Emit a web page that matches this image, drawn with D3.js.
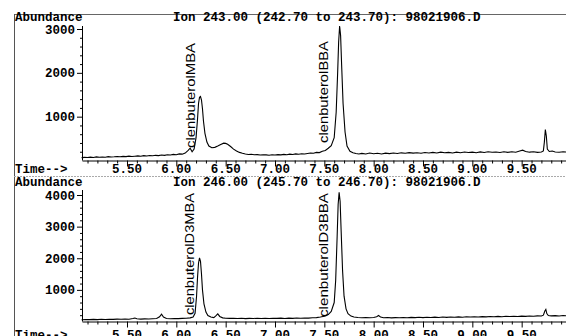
<!DOCTYPE html>
<html>
<head>
<meta charset="utf-8">
<script src="https://cdn.jsdelivr.net/npm/d3@7"></script>
<style>
  body { margin: 0; background: #fff; }
  svg { display: block; }
</style>
</head>
<body>
<div id="chart"></div>
<script>
// ---- data ----
const titles = [
  "Ion 243.00 (242.70 to 243.70): 98021906.D",
  "Ion 246.00 (245.70 to 246.70): 98021906.D"
];
const timeTicks = [5.5, 6.0, 6.5, 7.0, 7.5, 8.0, 8.5, 9.0, 9.5];
const yTicks243 = [1000, 2000, 3000];
const yTicks246 = [1000, 2000, 3000, 4000];

const peakLabels243 = ["clenbuterolMBA", "clenbuterolBBA"];
const peakLabels246 = ["clenbuterolD3MBA", "clenbuterolD3BBA"];

const t243 = [5.04,5.07,5.10,5.13,5.16,5.19,5.22,5.25,5.28,5.31,5.34,5.37,5.40,5.43,5.46,5.49,5.52,5.55,5.58,5.61,5.64,5.67,5.70,5.73,5.76,5.79,5.82,5.85,5.88,5.91,5.94,5.97,6.00,6.03,6.06,6.09,6.12,6.14,6.16,6.18,6.20,6.215,6.225,6.235,6.245,6.255,6.265,6.275,6.29,6.31,6.33,6.36,6.39,6.42,6.45,6.48,6.50,6.52,6.55,6.58,6.61,6.64,6.67,6.70,6.73,6.76,6.79,6.82,6.85,6.88,6.91,6.94,6.97,7.00,7.03,7.06,7.09,7.12,7.15,7.18,7.21,7.24,7.27,7.30,7.33,7.36,7.39,7.42,7.45,7.48,7.51,7.54,7.57,7.60,7.62,7.635,7.645,7.655,7.665,7.675,7.69,7.71,7.73,7.76,7.79,7.82,7.85,7.88,7.92,7.96,8.00,8.04,8.08,8.12,8.16,8.20,8.24,8.28,8.32,8.36,8.40,8.44,8.48,8.52,8.56,8.60,8.64,8.68,8.72,8.76,8.80,8.84,8.88,8.92,8.96,9.00,9.04,9.08,9.12,9.16,9.20,9.24,9.28,9.32,9.36,9.40,9.44,9.48,9.51,9.54,9.58,9.62,9.66,9.70,9.72,9.73,9.74,9.75,9.76,9.78,9.81,9.84,9.88,9.92,9.96,10.00];
const a243 = [65,72,68,78,70,82,75,80,74,88,80,85,92,84,95,88,100,92,98,105,96,110,102,115,108,118,112,125,118,130,124,140,132,150,145,170,230,280,200,260,520,950,1300,1440,1460,1380,1180,900,620,420,330,290,300,330,365,395,390,370,320,260,215,185,165,150,138,142,130,135,125,132,128,120,130,125,135,128,140,132,145,138,150,142,155,148,160,170,165,185,180,210,230,280,340,520,1100,2000,2700,3070,2850,2200,1300,650,330,210,175,160,150,162,148,170,155,165,150,168,158,172,160,175,165,180,168,178,165,182,170,185,172,190,176,185,172,190,178,195,182,190,178,196,184,200,188,195,182,198,186,200,190,215,235,205,190,198,185,195,220,420,705,560,260,205,215,195,188,200,192,198];

const t246 = [5.04,5.08,5.12,5.16,5.20,5.24,5.28,5.32,5.36,5.40,5.44,5.48,5.52,5.56,5.58,5.60,5.64,5.68,5.72,5.76,5.80,5.83,5.85,5.87,5.90,5.94,5.98,6.02,6.06,6.10,6.14,6.17,6.19,6.205,6.215,6.225,6.235,6.245,6.255,6.265,6.28,6.30,6.32,6.35,6.38,6.40,6.42,6.44,6.47,6.50,6.54,6.58,6.62,6.66,6.70,6.74,6.78,6.82,6.86,6.90,6.94,6.98,7.02,7.06,7.10,7.14,7.18,7.22,7.26,7.30,7.34,7.38,7.42,7.46,7.50,7.54,7.57,7.60,7.615,7.63,7.64,7.65,7.66,7.67,7.685,7.70,7.72,7.74,7.77,7.80,7.84,7.88,7.92,7.96,8.00,8.03,8.05,8.07,8.10,8.14,8.18,8.22,8.26,8.30,8.34,8.38,8.42,8.46,8.50,8.54,8.58,8.62,8.66,8.70,8.74,8.78,8.82,8.86,8.90,8.94,8.98,9.02,9.06,9.10,9.14,9.18,9.22,9.26,9.30,9.34,9.38,9.42,9.46,9.50,9.54,9.58,9.62,9.66,9.70,9.72,9.735,9.745,9.755,9.77,9.80,9.84,9.88,9.92,9.96,10.00];
const a246 = [55,62,58,66,60,70,64,72,66,75,70,78,72,95,110,85,76,82,78,88,95,150,230,140,95,88,96,90,100,105,115,140,260,800,1400,1850,2010,1900,1500,1000,560,300,190,140,125,180,240,160,115,105,98,105,95,102,92,100,95,104,96,102,94,105,98,106,97,108,100,110,102,112,106,118,124,140,165,220,320,600,1300,2700,3700,4086,3800,2900,1600,800,400,250,170,140,128,120,126,118,128,150,190,140,120,125,116,124,118,128,120,130,122,132,124,135,126,138,128,140,130,142,134,145,136,148,140,150,142,155,146,158,150,162,152,165,156,168,160,170,162,175,166,178,172,200,330,380,250,190,178,185,175,190,182,195];

// ---- layout ----
const width = 566;
const height = 336;
const margin = ({left: 82, right: 0});
const mono = "Liberation Mono, Courier New, monospace";

const svg = d3.create("svg")
    .attr("width", width)
    .attr("height", height);

svg.append("rect")
    .attr("width", width)
    .attr("height", height)
    .attr("fill", "#fff");

// shared time axis (min)
const xScale = d3.scaleLinear()
    .domain([5.044, 10.0])
    .range([margin.left, 571]);

// outer frame
svg.append("line")
    .attr("x1", 14).attr("x2", width)
    .attr("y1", 14.5).attr("y2", 14.5)
    .attr("stroke", "#666").attr("stroke-width", 1);
svg.append("line")
    .attr("x1", 14.5).attr("x2", 14.5)
    .attr("y1", 14).attr("y2", height)
    .attr("stroke", "#555").attr("stroke-width", 1);
svg.append("line")
    .attr("x1", 14).attr("x2", width)
    .attr("y1", 176.5).attr("y2", 176.5)
    .attr("stroke", "#aaa").attr("stroke-width", 1)
    .attr("stroke-dasharray", "2,1");

const panels = [
    {title: titles[0], t: t243, a: a243, ticks: yTicks243,
     yMax: 3000, y0: 160.5, yTop: 29, axisTop: 26, headY: 21, timeY: 173,
     labels: peakLabels243, labelBase: [195, 328], labelStart: [148, 143], labelLen: [105, 102]},
    {title: titles[1], t: t246, a: a246, ticks: yTicks246,
     yMax: 4000, y0: 321.5, yTop: 195, axisTop: 190, headY: 186, timeY: 339,
     labels: peakLabels246, labelBase: [194, 328], labelStart: [315, 317], labelLen: [122, 124]}
];

panels.forEach(p => {
    const yScale = d3.scaleLinear()
        .domain([0, p.yMax])
        .range([p.y0, p.yTop]);

    const g = svg.append("g");

    // header
    g.append("text")
        .attr("x", 15).attr("y", p.headY)
        .attr("font-family", mono).attr("font-weight", "bold")
        .attr("font-size", 12.5)
        .text("Abundance");
    g.append("text")
        .attr("x", 173).attr("y", p.headY)
        .attr("font-family", mono).attr("font-weight", "bold")
        .attr("font-size", 12.5)
        .text(p.title);

    // y axis
    const yAxis = g.append("g")
        .attr("transform", `translate(${margin.left},0)`)
        .call(d3.axisLeft(yScale)
            .tickValues(p.ticks)
            .tickSize(5)
            .tickPadding(2)
            .tickFormat(d3.format("d")));
    yAxis.select(".domain").remove();
    yAxis.selectAll("text")
        .attr("font-family", mono).attr("font-weight", "bold")
        .attr("font-size", 12.5).attr("fill", "#000");
    g.append("g")
        .attr("transform", `translate(${margin.left},0)`)
        .call(d3.axisLeft(yScale)
            .tickValues(d3.range(200, p.yMax + 1, 200).filter(v => !p.ticks.includes(v)))
            .tickSize(2)
            .tickFormat(""))
        .select(".domain").remove();
    g.append("line")
        .attr("x1", margin.left + 0.5).attr("x2", margin.left + 0.5)
        .attr("y1", p.axisTop).attr("y2", p.y0)
        .attr("stroke", "#000");

    // x axis (ticks point down)
    const xAxis = g.append("g")
        .attr("transform", `translate(0,${p.y0})`)
        .call(d3.axisBottom(xScale)
            .tickValues(d3.range(5.1, 10.0, 0.1).filter(v => Math.abs(v * 2 - Math.round(v * 2)) > 0.01))
            .tickSize(3)
            .tickFormat("")
            .tickSizeOuter(0));
    xAxis.select(".domain").attr("stroke", "#000");
    g.append("g")
        .attr("transform", `translate(0,${p.y0})`)
        .call(d3.axisBottom(xScale)
            .tickValues(timeTicks.concat([10.0]))
            .tickSize(6)
            .tickFormat("")
            .tickSizeOuter(0))
        .select(".domain").remove();

    g.selectAll(".tlabel")
        .data(timeTicks)
        .join("text")
        .attr("x", d => xScale(d))
        .attr("y", p.timeY)
        .attr("text-anchor", "middle")
        .attr("font-family", mono).attr("font-weight", "bold")
        .attr("font-size", 12.5)
        .text(d => d.toFixed(2));
    g.append("text")
        .attr("x", 15).attr("y", p.timeY)
        .attr("font-family", mono).attr("font-weight", "bold")
        .attr("font-size", 12.5)
        .text("Time-->");

    // trace
    const line = d3.line()
        .x(d => xScale(d[0]))
        .y(d => yScale(d[1]));
    g.append("path")
        .datum(p.t.map((d, i) => [d, p.a[i]]))
        .attr("fill", "none")
        .attr("stroke", "#000")
        .attr("stroke-width", 1.1)
        .attr("d", line);

    // peak names
    p.labels.forEach((name, i) => {
        g.append("text")
            .attr("transform", `translate(${p.labelBase[i]},${p.labelStart[i]}) rotate(-90)`)
            .attr("font-family", "Liberation Sans, Arial, sans-serif")
            .attr("font-size", 13)
            .attr("textLength", p.labelLen[i])
            .attr("lengthAdjust", "spacingAndGlyphs")
            .text(name);
    });
});

document.getElementById("chart").appendChild(svg.node());
</script>
</body>
</html>
